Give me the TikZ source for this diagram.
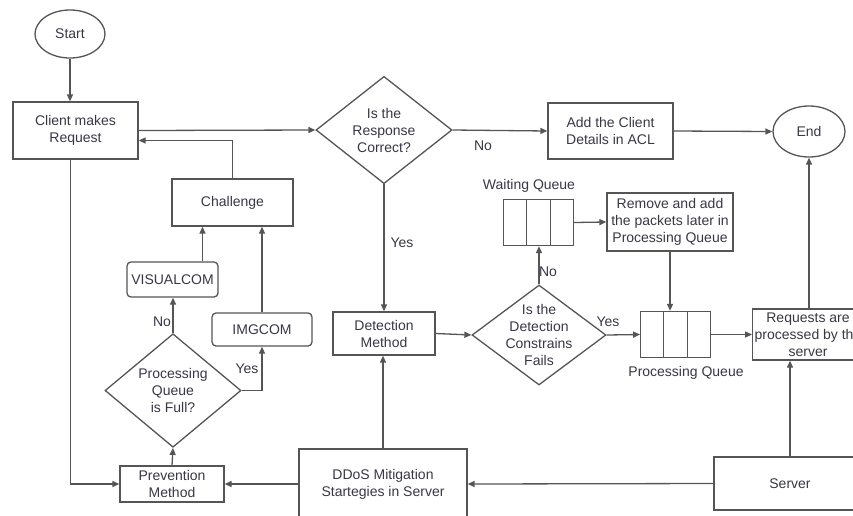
\documentclass[tikz,border=0pt]{standalone}
\usepackage{fontspec}
\setmainfont{Liberation Sans}
\usepackage{tikz}
\usetikzlibrary{arrows.meta,shapes.geometric,shapes.multipart}
\definecolor{linegray}{RGB}{85,85,85}
\definecolor{textgray}{RGB}{55,55,70}

\begin{document}
\begin{tikzpicture}[x=1pt, y=-1pt, color=linegray, text=textgray,
  font=\fontsize{14}{17}\selectfont, line width=1.3pt,
  box/.style={rectangle, draw, align=center, inner sep=2pt},
  roundbox/.style={box, rounded corners=4pt},
  term/.style={ellipse, draw, inner sep=0pt},
  decision/.style={diamond, draw, align=center, inner sep=0pt},
  queue/.style={rectangle split, rectangle split horizontal,
    rectangle split parts=3, draw, inner sep=0pt,
    rectangle split empty part width=17pt,
    rectangle split empty part height=23pt,
    rectangle split empty part depth=23pt},
  flow/.style={-{Triangle[length=7pt,width=6pt]}}]
\useasboundingbox (0,0) rectangle (853,515);

% Debut et fin
\node[term, minimum width=70pt, minimum height=48pt] (start) at (70,34) {Start};
\node[term, minimum width=72pt, minimum height=51pt] (end) at (809,131.5) {End};

% Ligne du haut
\node[box, minimum width=125pt, minimum height=57pt] (client) at (75.5,130.5) {Client makes\\Request};
\node[decision, minimum width=136pt, minimum height=101pt] (resp) at (384,130) {Is the\\Response\\Correct?};
\node[box, minimum width=125pt, minimum height=56pt] (acl) at (610.5,131) {Add the Client\\Details in ACL};

% Partie gauche : prevention
\node[box, minimum width=121pt, minimum height=47pt] (challenge) at (232.5,202.5) {Challenge};
\node[roundbox, minimum width=91pt, minimum height=35pt] (visual) at (172.5,279.5) {VISUALCOM};
\node[roundbox, minimum width=100pt, minimum height=33pt] (img) at (262,329.5) {IMGCOM};
\node[decision, minimum width=136pt, minimum height=95pt] (full) at (173,390.5) {Processing\\Queue\\is Full?};
\node[box, minimum width=104pt, minimum height=36pt] (prev) at (172,484) {Prevention\\Method};

% Partie centrale : detection
\node[box, minimum width=102pt, minimum height=43pt] (detect) at (384,333.5) {Detection\\Method};
\node[decision, inner sep=-10pt, minimum width=134pt, minimum height=100pt] (fails) at (539,335) {Is the\\Detection\\Constrains\\Fails};
\node[box, minimum width=168pt, minimum height=70pt] (ddos) at (383,484) {DDoS Mitigation\\Startegies in Server};

% Files d'attente
\node[queue] (wq) at (538.5,222.5) {};
\node (wqlabel) at (529,186) {Waiting Queue};
\node[box, minimum width=126pt, minimum height=58pt] (remove) at (670,222) {Remove and add\\the packets later in\\Processing Queue};
\node[queue] (pq) at (675.5,334.5) {};
\node (pqlabel) at (686,373) {Processing Queue};

% Partie droite : serveur
\node[box, minimum width=110pt, minimum height=51pt] (req) at (808,334.5) {Requests are\\processed by the\\server};
\node[box, minimum width=152pt, minimum height=53pt] (server) at (790,483.5) {Server};

% Fleches du haut
\draw[flow] (start.south) -- (start.south |- client.north);
\draw[flow] (client.east) -- (resp.west);
\draw[flow] (resp.east) -- (acl.west);
\draw[flow] (acl.east) -- (end.west);
\draw[flow] (challenge.north) |- ([yshift=-10pt]client.east);

% Fleches de la prevention
\draw[flow] ([xshift=30pt]visual.north) -- ([xshift=30pt]visual.north |- challenge.south);
\draw[flow] (img.north) -- (img.north |- challenge.south);
\draw[flow] (full.north) -- (full.north |- visual.south);
\draw[flow] (full.east) -| (img.south);
\draw[flow] (prev.north) -- (full.south);
\draw[flow] ([xshift=-5pt]client.south) |- (prev.west);
\draw[flow] (ddos.west) -- (prev.east);

% Fleches de la detection
\draw[flow] (resp.south) -- (detect.north);
\draw[flow] (ddos.north) -- (ddos.north |- detect.south);
\draw[flow] (detect.east) -- (fails.west);
\draw[flow] (fails.north) -- (fails.north |- wq.south);
\draw[flow] (fails.east) -- (pq.west);
\draw[flow] (wq.east) -- (remove.west);
\draw[flow] (remove.south) -- (remove.south |- pq.north);
\draw[flow] (pq.east) -- (req.west);

% Fleches du serveur
\draw[flow] (server.west) -- (ddos.east);
\draw[flow] (server.north) -- (server.north |- req.south);
\draw[flow] (end.south |- req.north) -- (end.south);

% Etiquettes Yes / No
\node (norep) at (483,146) {No};
\node (yesrep) at (402,243) {Yes};
\node (nofail) at (548,272) {No};
\node (yesfail) at (608,322) {Yes};
\node (nofull) at (162,322) {No};
\node (yesfull) at (247,369) {Yes};
\end{tikzpicture}
\end{document}
